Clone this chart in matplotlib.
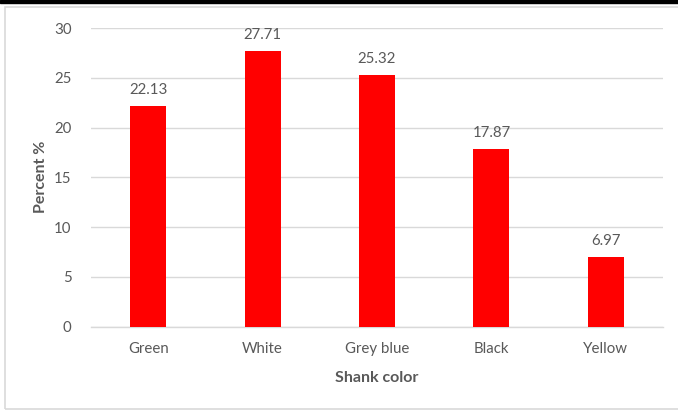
import matplotlib
matplotlib.use("Agg")
import matplotlib.pyplot as plt
from matplotlib.patches import Rectangle

categories = ["Green", "White", "Grey blue", "Black", "Yellow"]
percent = [22.13, 27.71, 25.32, 17.87, 6.97]
y_ticks = [0, 5, 10, 15, 20, 25, 30]

plt.rcParams["font.family"] = ["Lato", "DejaVu Sans"]
text_color = "#595959"
grid_color = "#d9d9d9"

fig = plt.figure(figsize=(6.78, 4.12), dpi=100)
W, H = 678, 412

# black strip on top and light chart frame
fig.patches.append(Rectangle((0, 1 - 3 / H), 1, 3 / H, transform=fig.transFigure,
                             color="black", zorder=0))
fig.patches.append(Rectangle((5 / W, 3 / H), 1, 1 - 10 / H, transform=fig.transFigure,
                             fill=False, edgecolor=grid_color, linewidth=1.2, zorder=0))

ax = fig.add_axes([91 / W, 1 - 326.5 / H, (663 - 91) / W, (326.5 - 28) / H])

x = range(len(categories))
bars = ax.bar(x, percent, width=0.315, color="#ff0000", zorder=3)
for b, v in zip(bars, percent):
    ax.text(b.get_x() + b.get_width() / 2, v + 0.9, f"{v:.2f}", ha="center", va="bottom",
            fontsize=10.8, color=text_color)

ax.set_xlim(-0.5, len(categories) - 0.5)
ax.set_ylim(0, 30)
ax.set_yticks(y_ticks)
ax.set_xticks(list(x))
ax.set_xticklabels(categories)
ax.tick_params(axis="both", length=0, labelsize=10.8, labelcolor=text_color)
ax.tick_params(axis="x", pad=11)
ax.tick_params(axis="y", pad=14)
ax.yaxis.grid(True, color=grid_color, linewidth=1.0, zorder=0)
ax.set_axisbelow(True)
for s in ["top", "right", "left"]:
    ax.spines[s].set_visible(False)
ax.spines["bottom"].set_color(grid_color)
ax.spines["bottom"].set_linewidth(1.0)

ax.set_ylabel("Percent %", fontsize=11.5, fontweight="bold", color=text_color, labelpad=4)
ax.set_xlabel("Shank color", fontsize=11.5, fontweight="bold", color=text_color, labelpad=11)

fig.savefig("out.png", dpi=100)
